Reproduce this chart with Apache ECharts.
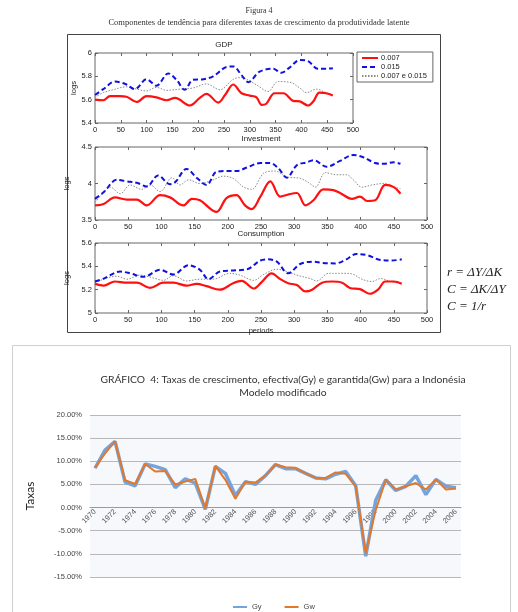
<!DOCTYPE html>
<html>
<head>
<meta charset="utf-8">
<script src="https://cdn.jsdelivr.net/npm/echarts@6/dist/echarts.min.js"></script>
<style>
  html, body { margin: 0; padding: 0; background: #fff; }
  #chart { width: 518px; height: 612px; }
</style>
</head>
<body>
<div id="chart"></div>
<script>
// ---- Trend components (period, log level) ----
const periodTicks = [0, 50, 100, 150, 200, 250, 300, 350, 400, 450, 500];
const rateNames = ['0.007', '0.015', '0.007 e 0.015'];

const gdpLow = [[0,5.60],[16,5.595],[29,5.63],[48,5.63],[61,5.625],[81,5.58],[100,5.63],[119,5.62],[139,5.595],[155,5.615],[184,5.55],[203,5.615],[216,5.65],[239,5.575],[252,5.64],[268,5.73],[284,5.655],[300,5.635],[313,5.62],[323,5.555],[332,5.565],[348,5.655],[365,5.655],[384,5.59],[397,5.585],[413,5.55],[423,5.585],[435,5.66],[448,5.655],[461,5.635]];
const gdpHigh = [[0,5.64],[16,5.69],[39,5.755],[61,5.73],[77,5.69],[100,5.775],[119,5.72],[142,5.825],[158,5.77],[174,5.685],[190,5.77],[210,5.775],[229,5.80],[255,5.88],[268,5.885],[284,5.81],[297,5.75],[319,5.84],[345,5.865],[361,5.83],[377,5.875],[397,5.94],[413,5.93],[432,5.865],[448,5.865],[461,5.87]];
const gdpMix = [[0,5.62],[16,5.66],[35,5.685],[61,5.71],[81,5.69],[100,5.675],[119,5.705],[139,5.68],[164,5.69],[190,5.70],[216,5.735],[242,5.685],[268,5.775],[284,5.79],[300,5.76],[319,5.71],[335,5.67],[355,5.755],[377,5.75],[397,5.70],[410,5.66],[429,5.69],[448,5.66],[461,5.64]];

const invLow = [[0,3.70],[13,3.72],[30,3.81],[48,3.78],[63,3.78],[78,3.70],[98,3.84],[113,3.81],[133,3.70],[146,3.79],[158,3.77],[183,3.61],[198,3.80],[213,3.84],[226,3.70],[236,3.65],[249,3.82],[264,4.03],[279,3.82],[291,3.85],[304,3.87],[317,3.70],[329,3.77],[344,3.92],[359,3.91],[369,3.87],[387,3.79],[399,3.82],[410,3.76],[422,3.77],[437,3.98],[450,3.95],[460,3.86]];
const invHigh = [[0,3.79],[13,3.88],[33,4.05],[48,4.03],[63,4.01],[78,3.96],[95,4.11],[113,3.99],[121,4.02],[138,4.20],[153,4.08],[168,3.98],[183,4.16],[198,4.17],[213,4.17],[229,4.22],[249,4.28],[264,4.28],[276,4.21],[289,4.08],[304,4.25],[319,4.29],[329,4.32],[349,4.23],[369,4.31],[389,4.39],[404,4.36],[422,4.28],[435,4.27],[450,4.29],[460,4.27]];
const invMix = [[0,3.74],[13,3.88],[23,3.95],[38,3.86],[53,3.98],[70,3.92],[83,3.98],[98,3.89],[116,4.08],[128,3.98],[141,4.05],[158,4.00],[178,4.05],[193,4.10],[208,4.07],[224,3.95],[236,3.92],[254,4.14],[271,4.17],[289,4.09],[309,4.07],[322,4.01],[332,3.95],[347,4.15],[364,4.12],[379,4.12],[389,4.05],[402,3.95],[417,3.98],[435,4.00],[450,3.95],[460,3.93]];

const consLow = [[0,5.25],[13,5.235],[30,5.27],[48,5.26],[63,5.26],[83,5.215],[103,5.26],[118,5.26],[138,5.235],[153,5.25],[168,5.23],[188,5.20],[208,5.255],[221,5.275],[239,5.21],[251,5.265],[266,5.34],[279,5.29],[291,5.255],[304,5.24],[317,5.185],[327,5.20],[342,5.26],[357,5.27],[372,5.26],[384,5.215],[399,5.205],[414,5.165],[427,5.205],[437,5.27],[450,5.27],[462,5.25]];
const consHigh = [[0,5.27],[13,5.295],[38,5.355],[53,5.34],[73,5.31],[98,5.37],[118,5.33],[141,5.41],[158,5.37],[171,5.29],[188,5.355],[208,5.365],[229,5.375],[249,5.45],[261,5.46],[274,5.44],[291,5.34],[309,5.42],[329,5.44],[342,5.43],[362,5.425],[377,5.455],[394,5.505],[410,5.495],[430,5.455],[447,5.45],[462,5.46]];
const consMix = [[0,5.26],[18,5.30],[33,5.315],[48,5.29],[68,5.325],[88,5.30],[103,5.28],[118,5.32],[138,5.275],[158,5.29],[178,5.29],[203,5.34],[218,5.325],[239,5.28],[254,5.33],[274,5.375],[289,5.355],[304,5.325],[324,5.295],[334,5.275],[352,5.34],[374,5.34],[387,5.335],[402,5.29],[417,5.27],[430,5.295],[445,5.27],[462,5.25]];

// ---- Indonesia growth rates, % ----
const years = [];
for (let y = 1970; y <= 2006; y++) years.push(String(y));
const gy = [8.5,12.4,14.3,5.5,4.7,9.4,8.9,8.2,4.3,6.2,5.3,-0.4,8.9,7.4,2.6,5.6,5.0,6.9,9.3,8.4,8.4,7.4,6.4,6.2,7.2,7.8,4.7,-10.5,1.6,6.0,3.7,4.6,6.9,2.8,6.1,4.6,4.3];
const gw = [8.7,11.7,14.3,5.9,5.1,9.4,7.8,7.9,5.0,5.6,6.2,-0.2,9.0,6.0,1.9,5.6,5.4,6.9,9.3,8.7,8.6,7.4,6.4,6.4,7.6,7.3,4.6,-9.8,-0.5,6.0,3.9,4.6,5.3,3.9,6.1,3.9,4.1];
const rateMin = -15, rateMax = 20, rateStep = 5;

const chart = echarts.init(document.getElementById('chart'), null, { renderer: 'canvas' });

const sans = 'Liberation Sans, Arial, sans-serif';
const serif = 'Liberation Serif, Times New Roman, serif';

// Matlab-style subplot boxes
const panels = [
  { left: 95, top: 53, width: 258, height: 70, min: 5.4, max: 6, interval: 0.2, data: [gdpLow, gdpHigh, gdpMix] },
  { left: 95, top: 147, width: 332, height: 73, min: 3.5, max: 4.5, interval: 0.5, data: [invLow, invHigh, invMix] },
  { left: 95, top: 243, width: 332, height: 70, min: 5, max: 5.6, interval: 0.2, data: [consLow, consHigh, consMix] }
];

const grids = [], xAxes = [], yAxes = [], series = [];
const lineStyles = [
  { color: '#ff1010', width: 2.2, type: 'solid' },
  { color: '#1010e0', width: 2, type: [5, 3] },
  { color: '#8a8a8a', width: 1, type: [1.5, 1.5] }
];

panels.forEach((p, i) => {
  grids.push({ left: p.left, top: p.top, width: p.width, height: p.height, show: true, borderColor: '#666', borderWidth: 1, backgroundColor: '#fff' });
  const xBase = {
    type: 'value', gridIndex: i, min: 0, max: 500, interval: 50,
    axisLine: { show: false }, splitLine: { show: false },
    axisTick: { inside: true, length: 3, lineStyle: { color: '#666' } }
  };
  xAxes.push(Object.assign({}, xBase, {
    position: 'bottom',
    axisLabel: { fontSize: 7.5, color: '#222', fontFamily: sans, margin: 3 },
    name: i === 2 ? 'periods' : '', nameLocation: 'middle', nameGap: 14,
    nameTextStyle: { fontSize: 7.5, color: '#222', fontFamily: sans }
  }));
  xAxes.push(Object.assign({}, xBase, { position: 'top', axisLabel: { show: false } }));
  const yBase = {
    type: 'value', gridIndex: i, min: p.min, max: p.max, interval: p.interval,
    axisLine: { show: false, onZero: false }, splitLine: { show: false },
    axisTick: { inside: true, length: 3, lineStyle: { color: '#666' } }
  };
  yAxes.push(Object.assign({}, yBase, {
    position: 'left',
    axisLabel: { fontSize: 7.5, color: '#222', fontFamily: sans, margin: 3 },
    name: 'logs', nameLocation: 'middle', nameGap: 15, nameRotate: 90,
    nameTextStyle: { fontSize: 7.5, color: '#222', fontFamily: sans }
  }));
  yAxes.push(Object.assign({}, yBase, { position: 'right', axisLabel: { show: false } }));
  p.data.forEach((d, k) => {
    series.push({
      name: rateNames[k], type: 'line', xAxisIndex: i * 2, yAxisIndex: i * 2,
      data: d, smooth: 0.35, symbol: 'none', lineStyle: lineStyles[k], itemStyle: { color: lineStyles[k].color },
      z: 3 - k, silent: true
    });
  });
});

// bottom growth-rate chart; the category axis sits on the 0% line
const rateGrid = { left: 90, top: 415, width: 371, height: 162 };
const zeroOffset = rateGrid.height * (0 - rateMin) / (rateMax - rateMin);
grids.push(Object.assign({ show: true, backgroundColor: '#f6f8fb', borderWidth: 0 }, rateGrid));
xAxes.push({
  type: 'category', gridIndex: 3, data: years, boundaryGap: true, position: 'bottom', offset: -zeroOffset,
  axisLine: { onZero: false, lineStyle: { color: '#9a9a9a', width: 1 } },
  axisTick: { show: false },
  axisLabel: { interval: 1, rotate: 45, fontSize: 7.5, color: '#555', fontFamily: sans, margin: 3 },
  splitLine: { show: false }
});
yAxes.push({
  type: 'value', gridIndex: 3, min: rateMin, max: rateMax, interval: rateStep,
  axisLine: { show: false }, axisTick: { show: false },
  axisLabel: { fontSize: 7.5, color: '#444', fontFamily: sans, margin: 8, formatter: v => v.toFixed(2) + '%' },
  splitLine: { lineStyle: { color: '#b8b8b8', width: 1 } },
  name: 'Taxas', nameLocation: 'middle', nameGap: 54, nameRotate: 90,
  nameTextStyle: { fontSize: 12, color: '#222', fontFamily: 'Lato, sans-serif' }
});
series.push({
  name: 'Gy', type: 'line', xAxisIndex: 6, yAxisIndex: 6, data: gy, symbol: 'none',
  lineStyle: { color: '#74a4dd', width: 3.5 }, itemStyle: { color: '#74a4dd' }, z: 2, silent: true
});
series.push({
  name: 'Gw', type: 'line', xAxisIndex: 6, yAxisIndex: 6, data: gw, symbol: 'none',
  lineStyle: { color: '#e1782c', width: 2 }, itemStyle: { color: '#e1782c' }, z: 3, silent: true
});

const option = {
  backgroundColor: '#fff',
  animation: false,
  grid: grids,
  xAxis: xAxes,
  yAxis: yAxes,
  series: series,
  legend: [
    {
      data: rateNames, orient: 'vertical', left: 357, top: 52,
      backgroundColor: '#fff', borderColor: '#666', borderWidth: 1, borderRadius: 0,
      padding: [2, 6, 2, 4], itemGap: 1, itemWidth: 16, itemHeight: 7,
      itemStyle: { opacity: 0 },
      textStyle: { fontSize: 7.5, color: '#222', fontFamily: sans, padding: [0, 0, 0, -2] },
      selectedMode: false
    },
    {
      data: ['Gy', 'Gw'], left: 227, top: 598, itemGap: 22, itemWidth: 14, itemHeight: 6,
      itemStyle: { opacity: 0 },
      textStyle: { fontSize: 7.5, color: '#444', fontFamily: sans },
      selectedMode: false
    }
  ],
  graphic: [
    { type: 'rect', shape: { x: 67.5, y: 34.5, width: 373, height: 298 }, style: { fill: 'none', stroke: '#444', lineWidth: 1 }, z: -1 },
    { type: 'rect', shape: { x: 12.5, y: 345.5, width: 498, height: 280 }, style: { fill: 'none', stroke: '#cfcfcf', lineWidth: 1 }, z: -1 },
    { type: 'text', style: { text: 'Figura 4', x: 259, y: 11, textAlign: 'center', textVerticalAlign: 'middle', font: '8px ' + serif, fill: '#333' } },
    { type: 'text', style: { text: 'Componentes de tendência para diferentes taxas de crescimento da produtividade latente', x: 259, y: 23, textAlign: 'center', textVerticalAlign: 'middle', font: '8.5px ' + serif, fill: '#333' } },
    { type: 'text', style: { text: 'GDP', x: 224, y: 45, textAlign: 'center', textVerticalAlign: 'middle', font: '8px ' + sans, fill: '#222' } },
    { type: 'text', style: { text: 'Investment', x: 261, y: 139, textAlign: 'center', textVerticalAlign: 'middle', font: '8px ' + sans, fill: '#222' } },
    { type: 'text', style: { text: 'Consumption', x: 261, y: 233.5, textAlign: 'center', textVerticalAlign: 'middle', font: '8px ' + sans, fill: '#222' } },
    { type: 'text', style: { text: 'r = ΔY/ΔK', x: 447, y: 273, textVerticalAlign: 'middle', font: 'italic 13px ' + serif, fill: '#222' } },
    { type: 'text', style: { text: 'C = ΔK/ΔY', x: 447, y: 290, textVerticalAlign: 'middle', font: 'italic 13px ' + serif, fill: '#222' } },
    { type: 'text', style: { text: 'C = 1/r', x: 447, y: 307, textVerticalAlign: 'middle', font: 'italic 13px ' + serif, fill: '#222' } },
    { type: 'text', style: { text: 'GRÁFICO  4: Taxas de crescimento, efectiva(Gy) e garantida(Gw) para a Indonésia', x: 283, y: 380, textAlign: 'center', textVerticalAlign: 'middle', font: '10.3px Lato, sans-serif', fill: '#333' } },
    { type: 'text', style: { text: 'Modelo modificado', x: 283, y: 393, textAlign: 'center', textVerticalAlign: 'middle', font: '10.3px Lato, sans-serif', fill: '#333' } }
  ]
};

chart.setOption(option);
</script>
</body>
</html>
